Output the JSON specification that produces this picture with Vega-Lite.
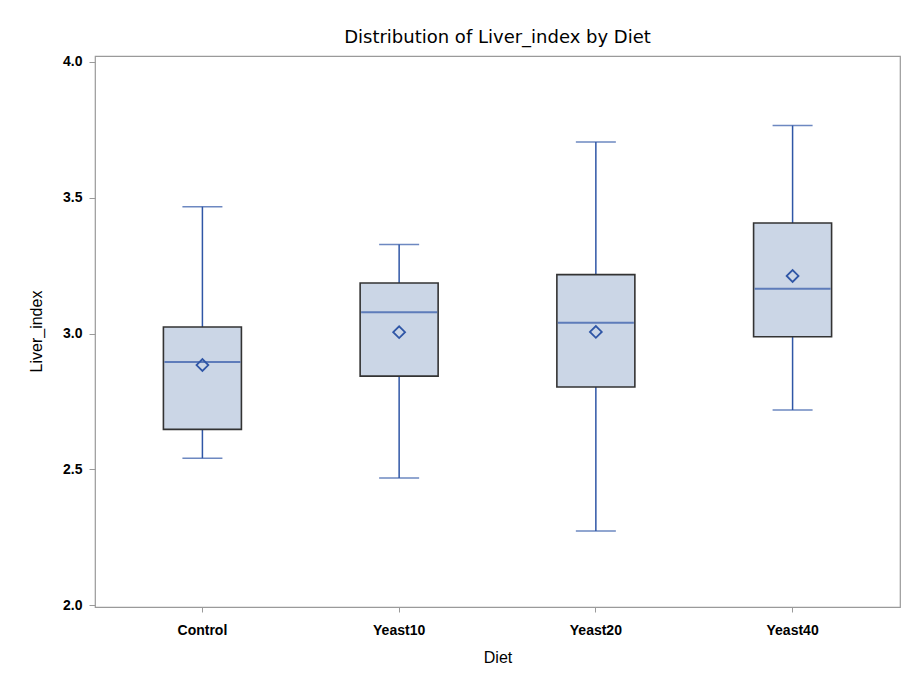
{
  "$schema": "https://vega.github.io/schema/vega-lite/v6.json",
  "width": 805,
  "height": 551,
  "autosize": {"type": "none"},
  "padding": {"left": 95, "top": 56, "right": 3, "bottom": 69},
  "background": "white",
  "title": {
    "text": "Distribution of Liver_index by Diet",
    "font": "DejaVu Sans",
    "fontSize": 18,
    "fontWeight": "normal",
    "color": "#000000",
    "anchor": "middle",
    "offset": 8
  },
  "config": {
    "view": {"stroke": "#9a9a9a", "strokeWidth": 1.2},
    "axis": {
      "labelFont": "Liberation Sans",
      "titleFont": "Liberation Sans",
      "labelFontSize": 14,
      "titleFontSize": 16,
      "labelFontWeight": "bold",
      "titleFontWeight": "normal",
      "labelColor": "#000000",
      "titleColor": "#000000",
      "tickColor": "#9a9a9a",
      "domain": false,
      "grid": false
    }
  },
  "data": {
    "values": [
      {"Diet": "Control", "min": 2.541, "q1": 2.647, "median": 2.895, "mean": 2.884, "q3": 3.024, "max": 3.467},
      {"Diet": "Yeast10", "min": 2.468, "q1": 2.843, "median": 3.078, "mean": 3.005, "q3": 3.186, "max": 3.328},
      {"Diet": "Yeast20", "min": 2.273, "q1": 2.803, "median": 3.040, "mean": 3.006, "q3": 3.217, "max": 3.705},
      {"Diet": "Yeast40", "min": 2.718, "q1": 2.988, "median": 3.165, "mean": 3.212, "q3": 3.407, "max": 3.766}
    ]
  },
  "encoding": {
    "x": {
      "field": "Diet",
      "type": "nominal",
      "sort": ["Control", "Yeast10", "Yeast20", "Yeast40"],
      "scale": {"paddingInner": 0, "paddingOuter": 0.046},
      "axis": {
        "title": "Diet",
        "labelAngle": 0,
        "tickSize": 5,
        "labelPadding": 11,
        "titleY": 50,
        "titleBaseline": "middle"
      }
    }
  },
  "layer": [
    {
      "mark": {"type": "rule", "color": "#2f56a6", "strokeWidth": 1.5},
      "encoding": {
        "y": {
          "field": "min",
          "type": "quantitative",
          "scale": {"domain": [1.993, 4.022], "nice": false, "zero": false},
          "axis": {
            "title": "Liver_index",
            "values": [2.0, 2.5, 3.0, 3.5, 4.0],
            "format": ".1f",
            "tickSize": 6,
            "labelPadding": 7,
            "titleX": -59,
            "titleY": 275,
            "titleAngle": 270,
            "titleAlign": "center",
            "titleBaseline": "middle"
          }
        },
        "y2": {"field": "max"}
      }
    },
    {
      "mark": {"type": "bar", "fill": "#cbd6e6", "stroke": "#333333", "strokeWidth": 1.6, "width": 78},
      "encoding": {
        "y": {"field": "q1", "type": "quantitative"},
        "y2": {"field": "q3"}
      }
    },
    {
      "mark": {"type": "tick", "color": "#2f56a6", "thickness": 1.5, "size": 40, "orient": "horizontal"},
      "encoding": {"y": {"field": "min", "type": "quantitative"}}
    },
    {
      "mark": {"type": "tick", "color": "#2f56a6", "thickness": 1.5, "size": 40, "orient": "horizontal"},
      "encoding": {"y": {"field": "max", "type": "quantitative"}}
    },
    {
      "mark": {"type": "tick", "color": "#2f56a6", "thickness": 2, "size": 76, "orient": "horizontal"},
      "encoding": {"y": {"field": "median", "type": "quantitative"}}
    },
    {
      "mark": {"type": "point", "shape": "diamond", "filled": false, "stroke": "#2f56a6", "strokeWidth": 1.8, "size": 140, "opacity": 1},
      "encoding": {"y": {"field": "mean", "type": "quantitative"}}
    }
  ]
}
